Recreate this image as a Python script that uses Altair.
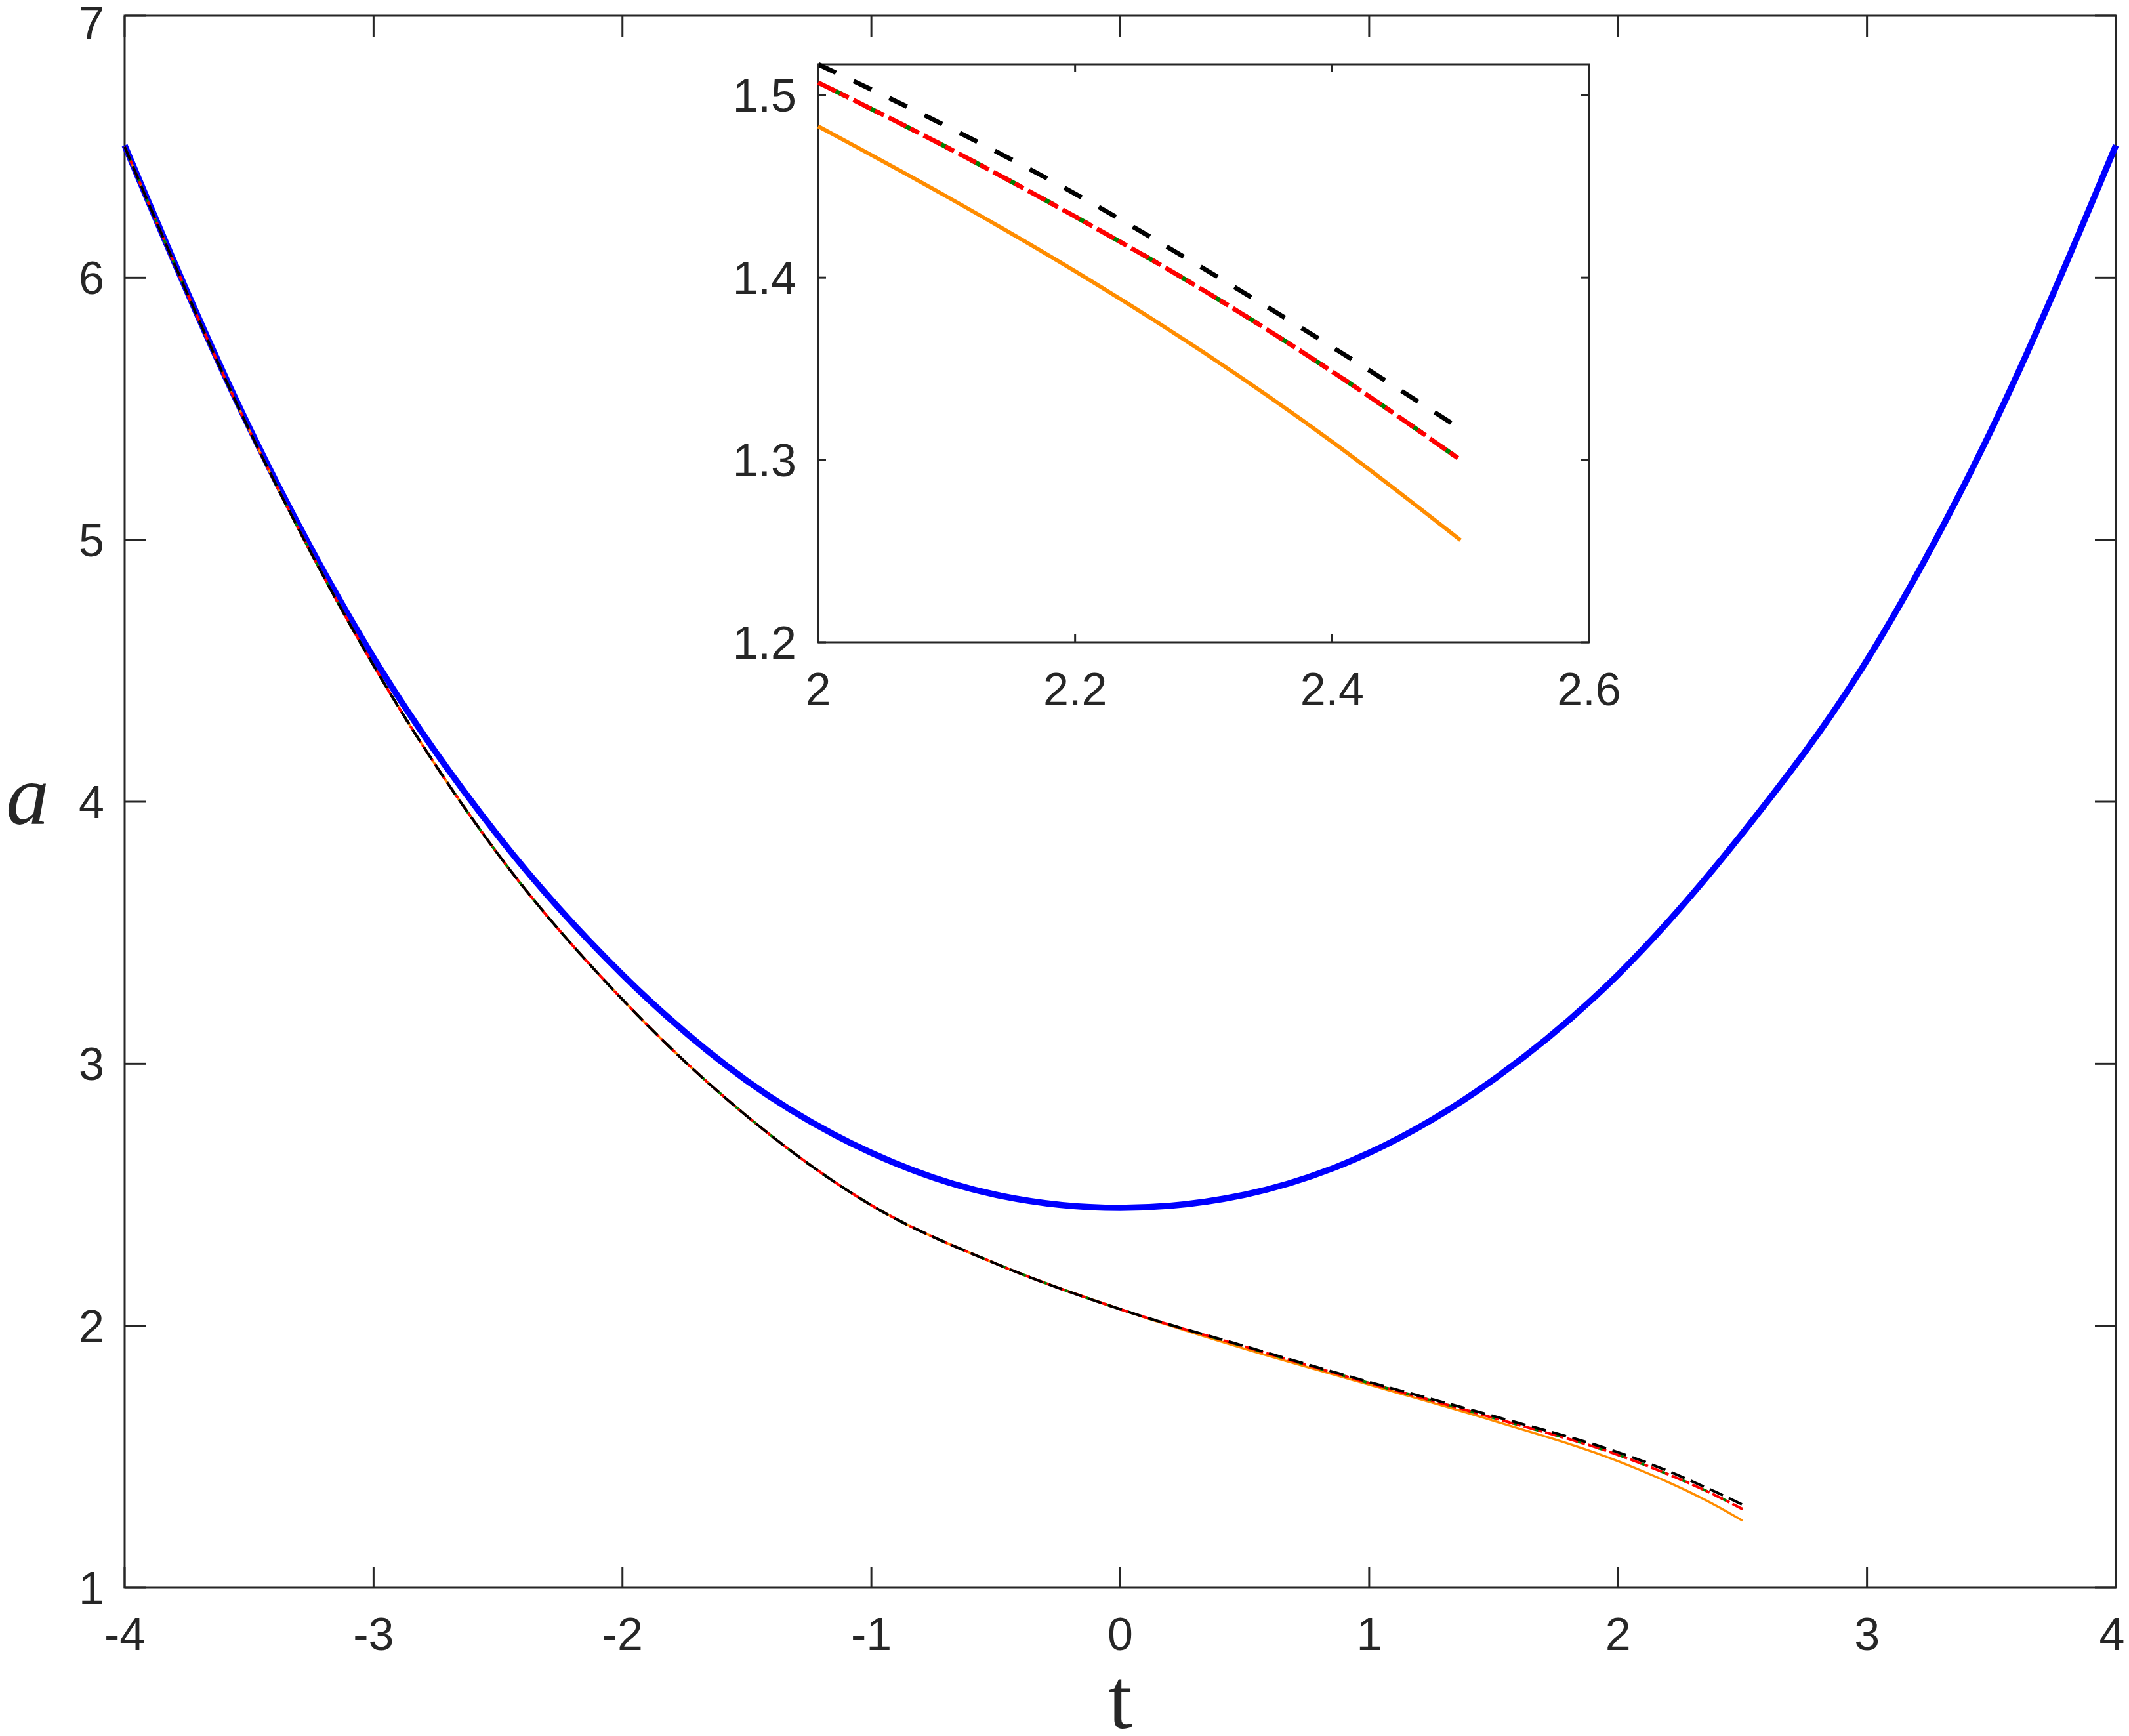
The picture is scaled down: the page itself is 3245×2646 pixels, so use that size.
import altair as alt
import pandas as pd

# ---------------- data ----------------
t_blue = [-4, -3.5, -3, -2.5, -2, -1.5, -1, -0.5, 0, 0.5, 1, 1.5, 2, 2.5, 3, 3.5, 4]
a_blue = [6.505, 5.43, 4.55, 3.87, 3.34, 2.935, 2.66, 2.50, 2.45, 2.50, 2.66, 2.94, 3.34, 3.88, 4.54, 5.42, 6.505]

t_low = [-4, -3.5, -3, -2.5, -2, -1.5, -1, -0.5, 0, 0.5, 1, 1.5, 2, 2.1, 2.2, 2.3, 2.4, 2.5]
a_black = [6.50, 5.42, 4.52, 3.80, 3.245, 2.80, 2.46, 2.237, 2.063, 1.922, 1.785, 1.655, 1.517, 1.483, 1.446, 1.405, 1.362, 1.317]
a_red = [6.50, 5.42, 4.52, 3.80, 3.245, 2.80, 2.46, 2.237, 2.063, 1.920, 1.781, 1.648, 1.507, 1.4715, 1.4335, 1.393, 1.3485, 1.300]
a_green = [6.50, 5.42, 4.52, 3.80, 3.245, 2.80, 2.46, 2.237, 2.063, 1.920, 1.781, 1.648, 1.507, 1.4715, 1.4335, 1.393, 1.3485, 1.300]
a_orange = [6.50, 5.42, 4.52, 3.80, 3.245, 2.80, 2.46, 2.237, 2.063, 1.912, 1.775, 1.637, 1.483, 1.4445, 1.4035, 1.359, 1.310, 1.256]

main_xticks = [-4, -3, -2, -1, 0, 1, 2, 3, 4]
main_yticks = [1, 2, 3, 4, 5, 6, 7]
inset_xticks = [2, 2.2, 2.4, 2.6]
inset_yticks = [1.2, 1.3, 1.4, 1.5]
inset_xlim = [2, 2.6]
inset_ylim = [1.2, 1.517]
x_title = ["t"]
y_title = ["a"]

# ---------------- tables ----------------
df_blue = pd.DataFrame({"t": t_blue, "a": a_blue})
low_rows = []
for name, vals in [("orange", a_orange), ("green", a_green), ("red", a_red), ("black", a_black)]:
    for t, a in zip(t_low, vals):
        low_rows.append({"t": t, "a": a, "s": name})
df_low = pd.DataFrame(low_rows)
df_mx = pd.DataFrame({"v": main_xticks})
df_my = pd.DataFrame({"v": main_yticks})
df_ix = pd.DataFrame({"v": inset_xticks})
df_iy = pd.DataFrame({"v": inset_yticks})
df_frame = pd.DataFrame({"x0": [inset_xlim[0]], "x1": [inset_xlim[1]],
                         "y0": [inset_ylim[0]], "y1": [inset_ylim[1]]})
df_xt = pd.DataFrame({"label": x_title})
df_yt = pd.DataFrame({"label": y_title})

# ---------------- layout / style ----------------
W, H = 3035, 2396
IX0, IX1 = 1057, 2232      # inset box inside the main plot area (px)
IY0, IY1 = 74, 955
AX = "#262626"
BLUE, ORANGE, GREEN, RED, BLACK = "#0000FF", "#FF8C00", "#008000", "#FF0000", "#000000"
SANS = "Liberation Sans"
SERIF = "Liberation Serif"
LFS = 70

mx = alt.Scale(domain=[-4, 4], nice=False, zero=False)
my = alt.Scale(domain=[1, 7], nice=False, zero=False)
ix = alt.Scale(domain=inset_xlim, range=[IX0, IX1], nice=False, zero=False)
iy = alt.Scale(domain=inset_ylim, range=[IY1, IY0], nice=False, zero=False)


def X(field, sc):
    return alt.X(field, scale=sc, axis=None)


def Y(field, sc):
    return alt.Y(field, scale=sc, axis=None)


def low_line(scx, scy, name, color, width, dash=None, dash_off=None, inset=False):
    kw = dict(color=color, strokeWidth=width, interpolate="monotone")
    if dash is not None:
        kw["strokeDash"] = dash
    if dash_off is not None:
        kw["strokeDashOffset"] = dash_off
    ch = alt.Chart(df_low).mark_line(**kw).transform_filter(alt.datum.s == name)
    if inset:
        ch = ch.transform_filter(alt.datum.t >= 2)
    return ch.encode(x=X("t:Q", scx), y=Y("a:Q", scy))


def tick_labels(df, scx=None, scy=None, xv=None, yv=None, align="center",
                dx=0, dy=0, flt=None):
    ch = alt.Chart(df)
    if flt is not None:
        ch = ch.transform_filter(flt)
    ch = ch.transform_calculate(lbl="'' + datum.v").mark_text(
        font=SANS, fontSize=LFS, color=AX, align=align, baseline="alphabetic",
        dx=dx, dy=dy)
    enc = {"text": "lbl:N"}
    enc["x"] = X("v:Q", scx) if scx is not None else alt.value(xv)
    enc["y"] = Y("v:Q", scy) if scy is not None else alt.value(yv)
    return ch.encode(**enc)


tick_kw = dict(color=AX, strokeWidth=3)


def ticks_x(df, sc, y0, y1):
    return alt.Chart(df).mark_rule(**tick_kw).encode(
        x=X("v:Q", sc), y=alt.value(y0), y2=alt.value(y1))


def ticks_y(df, sc, x0, x1):
    return alt.Chart(df).mark_rule(**tick_kw).encode(
        y=Y("v:Q", sc), x=alt.value(x0), x2=alt.value(x1))


# ---------------- main panel ----------------
blue = alt.Chart(df_blue).mark_line(color=BLUE, strokeWidth=9.5, interpolate="monotone").encode(
    x=X("t:Q", mx), y=Y("a:Q", my))
m_orange = low_line(mx, my, "orange", ORANGE, 3.5)
m_green = low_line(mx, my, "green", GREEN, 4, [11, 23], 19)
m_red = low_line(mx, my, "red", RED, 4, [18, 5, 6, 5])
m_black = low_line(mx, my, "black", BLACK, 4, [22, 10])

main_layers = [
    blue, m_orange, m_green, m_red, m_black,
    ticks_x(df_mx, mx, H, H - 32), ticks_x(df_mx, mx, 0, 32),
    ticks_y(df_my, my, 0, 32), ticks_y(df_my, my, W, W - 32),
    tick_labels(df_mx, scx=mx, yv=H + 95, flt=alt.datum.v < 4),
    tick_labels(df_mx, scx=mx, yv=H + 95, dx=-6, flt=alt.datum.v >= 4),
    tick_labels(df_my, scy=my, xv=-31, align="right", dy=25, flt=alt.datum.v < 7),
    tick_labels(df_my, scy=my, xv=-31, align="right", dy=36, flt=alt.datum.v >= 7),
    alt.Chart(df_xt).mark_text(font=SERIF, fontSize=132, color=AX, align="center",
                               baseline="alphabetic").encode(
        x=alt.value(W / 2), y=alt.value(2610), text="label:N"),
    alt.Chart(df_yt).mark_text(font=SERIF, fontSize=132, fontStyle="italic", color=AX,
                               align="center", baseline="alphabetic").encode(
        x=alt.value(-148), y=alt.value(1232), text="label:N"),
]

# ---------------- inset panel ----------------
frame = alt.Chart(df_frame).mark_rect(fill="white", stroke=AX, strokeWidth=3).encode(
    x=X("x0:Q", ix), x2="x1", y=Y("y0:Q", iy), y2="y1")
i_orange = low_line(ix, iy, "orange", ORANGE, 6, inset=True)
i_green = low_line(ix, iy, "green", GREEN, 7, [24, 36], 39, inset=True)
i_red = low_line(ix, iy, "red", RED, 7, [30, 7, 15, 8], inset=True)
i_black = low_line(ix, iy, "black", BLACK, 7, [30, 30], inset=True)

inset_layers = [
    frame, i_orange, i_green, i_red, i_black,
    ticks_x(df_ix, ix, IY1, IY1 - 12), ticks_x(df_ix, ix, IY0, IY0 + 12),
    ticks_y(df_iy, iy, IX0, IX0 + 12), ticks_y(df_iy, iy, IX1, IX1 - 12),
    tick_labels(df_ix, scx=ix, yv=IY1 + 96),
    tick_labels(df_iy, scy=iy, xv=IX0 - 33, align="right", dy=25),
]

chart = (
    alt.layer(*main_layers, *inset_layers)
    .resolve_scale(x="independent", y="independent")
    .properties(width=W, height=H, background="white",
                autosize=alt.AutoSizeParams(type="none"),
                padding={"left": 182, "top": 16, "right": 12, "bottom": 220})
    .configure_view(stroke=AX, strokeWidth=3)
)

chart.save("out.html", embed_options={"renderer": "svg", "actions": False})
